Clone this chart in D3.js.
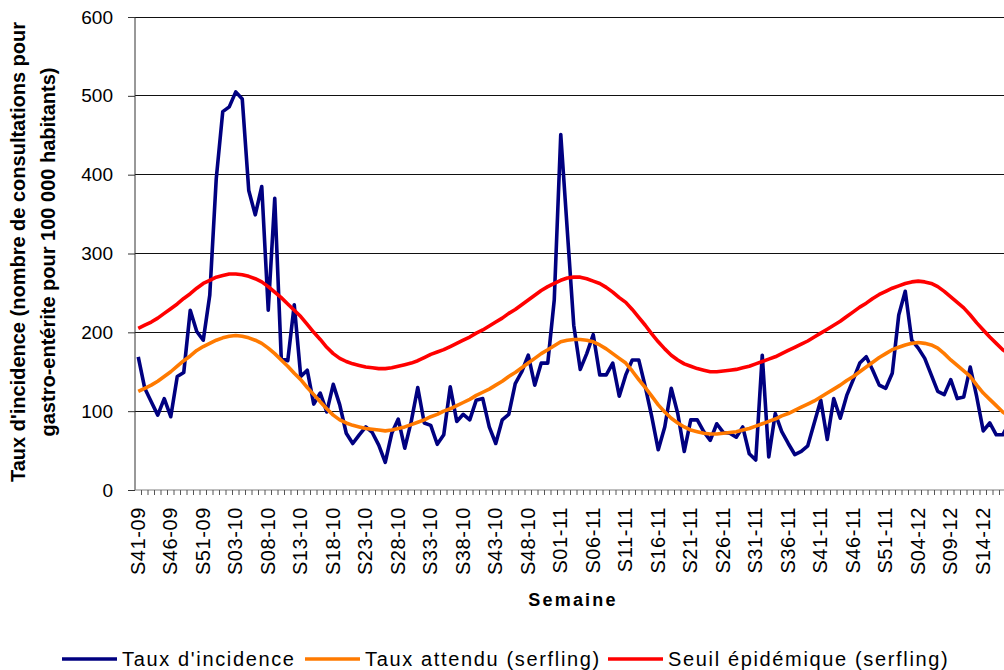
<!DOCTYPE html>
<html>
<head>
<meta charset="utf-8">
<script src="https://cdn.jsdelivr.net/npm/d3@7"></script>
<style>
  body { margin: 0; background: #fff; }
  text { font-family: Arial, "Liberation Sans", sans-serif; }
</style>
</head>
<body>
<script>
// semaines : de S41-09 à S18-12
const saisons = [["09", 41, 53], ["10", 1, 52], ["11", 1, 52], ["12", 1, 18]];
const semaines = [];
saisons.forEach(([yy, a, b]) => {
  for (let w = a; w <= b; w++) semaines.push("S" + String(w).padStart(2, "0") + "-" + yy);
});

// Taux d'incidence (pour 100 000 habitants)
const tauxIncidence = [
  169, 129, 112, 95, 116, 93, 144, 149, 228, 201,
  190, 247, 395, 480, 486, 505, 496, 380, 349, 385,
  228, 370, 167, 164, 235, 144, 152, 109, 123, 99,
  134, 108, 72, 59, 70, 80, 73, 57, 35, 72,
  90, 53, 87, 130, 85, 82, 58, 70, 131, 87,
  96, 89, 114, 116, 80, 59, 89, 96, 135, 150,
  171, 133, 161, 161, 241, 451, 330, 209, 153, 173,
  197, 146, 146, 161, 119, 146, 165, 165, 131, 93,
  51, 80, 129, 97, 49, 89, 89, 74, 63, 84,
  73, 72, 67, 80, 46, 38, 171, 42, 97, 74,
  59, 45, 49, 56, 85, 114, 64, 116, 91, 120,
  140, 161, 169, 152, 133, 129, 148, 222, 252, 190,
  180, 167, 146, 125, 121, 140, 116, 118, 156, 118,
  75, 85, 70, 70, 85
];

// Taux attendu (serfling)
const tauxAttendu = [
  125, 129, 133, 138, 144, 150, 157, 164, 170, 177,
  182, 186, 190, 193, 195, 196, 195, 193, 190, 186,
  180, 173, 165, 157, 148, 140, 130, 121, 112, 103,
  95, 89, 85, 82, 80, 78, 77, 76, 75, 76,
  78, 80, 83, 86, 89, 93, 96, 100, 103, 107,
  111, 115, 120, 124, 128, 133, 138, 144, 149, 155,
  161, 167, 173, 178, 183, 188, 190, 191, 191, 190,
  188, 184, 179, 173, 167, 161, 151, 140, 130, 119,
  108, 99, 91, 85, 80, 76, 74, 72, 71, 71,
  72, 73, 74, 76, 78, 81, 84, 87, 90, 94,
  97, 101, 105, 109, 113, 118, 123, 128, 133, 139,
  144, 150, 156, 162, 168, 173, 178, 181, 184, 186,
  187, 186, 184, 180, 173, 165, 158, 151, 144, 133,
  123, 115, 107, 99, 93
];

// Seuil épidémique (serfling)
const seuilEpidemique = [
  205, 209, 213, 218, 224, 230, 236, 243, 249, 256,
  262, 266, 270, 272, 274, 274, 273, 271, 268, 264,
  258, 251, 244, 236, 228, 220, 210, 200, 191, 181,
  173, 167, 163, 160, 158, 156, 155, 154, 154, 155,
  157, 159, 161, 164, 168, 172, 175, 178, 182, 186,
  190, 194, 199, 203, 208, 213, 218, 224, 229, 235,
  241, 247, 253, 258, 262, 266, 269, 270, 270, 268,
  265, 262, 257, 251, 244, 238, 229, 219, 209, 198,
  188, 179, 171, 165, 160, 157, 154, 152, 150, 150,
  151, 152, 153, 155, 157, 160, 163, 166, 169, 173,
  177, 181, 185, 189, 194, 199, 204, 209, 214, 220,
  226, 232, 237, 243, 248, 252, 256, 259, 262, 264,
  265, 264, 262, 258, 252, 245, 238, 231, 222, 212,
  203, 194, 186, 178, 172
];

const yTicks = [0, 100, 200, 300, 400, 500, 600];

const series = [
  { name: "Taux d'incidence", values: tauxIncidence, color: "#000080" },
  { name: "Taux attendu (serfling)", values: tauxAttendu, color: "#FF7A00" },
  { name: "Seuil épidémique (serfling)", values: seuilEpidemique, color: "#FF0000" }
];

const W = 1004, H = 670;
const plotLeft = 135, plotTop = 17, plotBottom = 490, step = 6.5;

const x = d3.scaleBand()
  .domain(semaines)
  .range([plotLeft, plotLeft + step * semaines.length]);

const y = d3.scaleLinear().domain([0, 600]).range([plotBottom, plotTop]);

const svg = d3.select("body").append("svg")
  .attr("width", W)
  .attr("height", H);

// lignes de grille
svg.append("g")
  .selectAll("line")
  .data(yTicks.filter(d => d > 0))
  .join("line")
  .attr("x1", plotLeft).attr("x2", x.range()[1])
  .attr("y1", d => y(d)).attr("y2", d => y(d))
  .attr("stroke", "#111")
  .attr("shape-rendering", "crispEdges");

// axe Y
svg.append("g")
  .attr("transform", `translate(${plotLeft},0)`)
  .call(d3.axisLeft(y).tickValues(yTicks).tickSize(7).tickPadding(15).tickFormat(d3.format("d")))
  .call(g => g.select(".domain").attr("stroke", "#333").attr("d", `M0,${plotTop}V${plotBottom}`))
  .call(g => g.selectAll(".tick line").attr("stroke", "#333"))
  .call(g => g.selectAll(".tick text")
    .attr("font-size", 19).attr("fill", "#000").attr("font-family", "Arial, 'Liberation Sans', sans-serif"));

// axe X : petites graduations entre chaque semaine
const xAxis = svg.append("g").attr("transform", `translate(0,${plotBottom})`);
xAxis.append("line")
  .attr("x1", plotLeft).attr("x2", x.range()[1])
  .attr("stroke", "#808080").attr("stroke-width", 1.2);
xAxis.selectAll("line.tk")
  .data(semaines)
  .join("line")
  .attr("class", "tk")
  .attr("x1", d => x(d) + step).attr("x2", d => x(d) + step)
  .attr("y1", 0).attr("y2", 5)
  .attr("stroke", "#555");
xAxis.selectAll("text")
  .data(semaines.filter((d, i) => i % 5 === 0))
  .join("text")
  .attr("transform", d => `translate(${x(d) + x.bandwidth() / 2},17) rotate(-90)`)
  .attr("text-anchor", "end")
  .attr("dy", "0.32em")
  .attr("font-size", 20)
  .attr("letter-spacing", 0.6)
  .text(d => d);

// courbes
const line = d3.line()
  .x((d, i) => x(semaines[i]) + x.bandwidth() / 2)
  .y(d => y(d));

// ordre de tracé : incidence d'abord, puis attendu et seuil par-dessus
svg.append("g")
  .selectAll("path")
  .data(series)
  .join("path")
  .attr("d", d => line(d.values))
  .attr("fill", "none")
  .attr("stroke", d => d.color)
  .attr("stroke-width", 3.6)
  .attr("stroke-linejoin", "round");

// titres des axes
svg.append("text")
  .attr("x", 573).attr("y", 606)
  .attr("text-anchor", "middle")
  .attr("font-size", 18).attr("font-weight", "bold")
  .attr("letter-spacing", 2.2)
  .text("Semaine");

const yTitle = svg.append("g")
  .attr("transform", `translate(0,252) rotate(-90)`)
  .attr("text-anchor", "middle")
  .attr("font-size", 20).attr("font-weight", "bold");
yTitle.append("text").attr("y", 25).text("Taux d'incidence (nombre de consultations pour");
yTitle.append("text").attr("y", 55).text("gastro-entérite pour 100 000 habitants)");

// légende
const legendX = [62, 305, 608];
const legend = svg.append("g")
  .selectAll("g")
  .data(series)
  .join("g")
  .attr("transform", (d, i) => `translate(${legendX[i]},659)`);
legend.append("line")
  .attr("x1", 0).attr("x2", 55)
  .attr("stroke", d => d.color).attr("stroke-width", 3.5);
legend.append("text")
  .attr("x", 60).attr("y", 6.5)
  .attr("font-size", 20)
  .attr("letter-spacing", 1.65)
  .text(d => d.name);
</script>
</body>
</html>
